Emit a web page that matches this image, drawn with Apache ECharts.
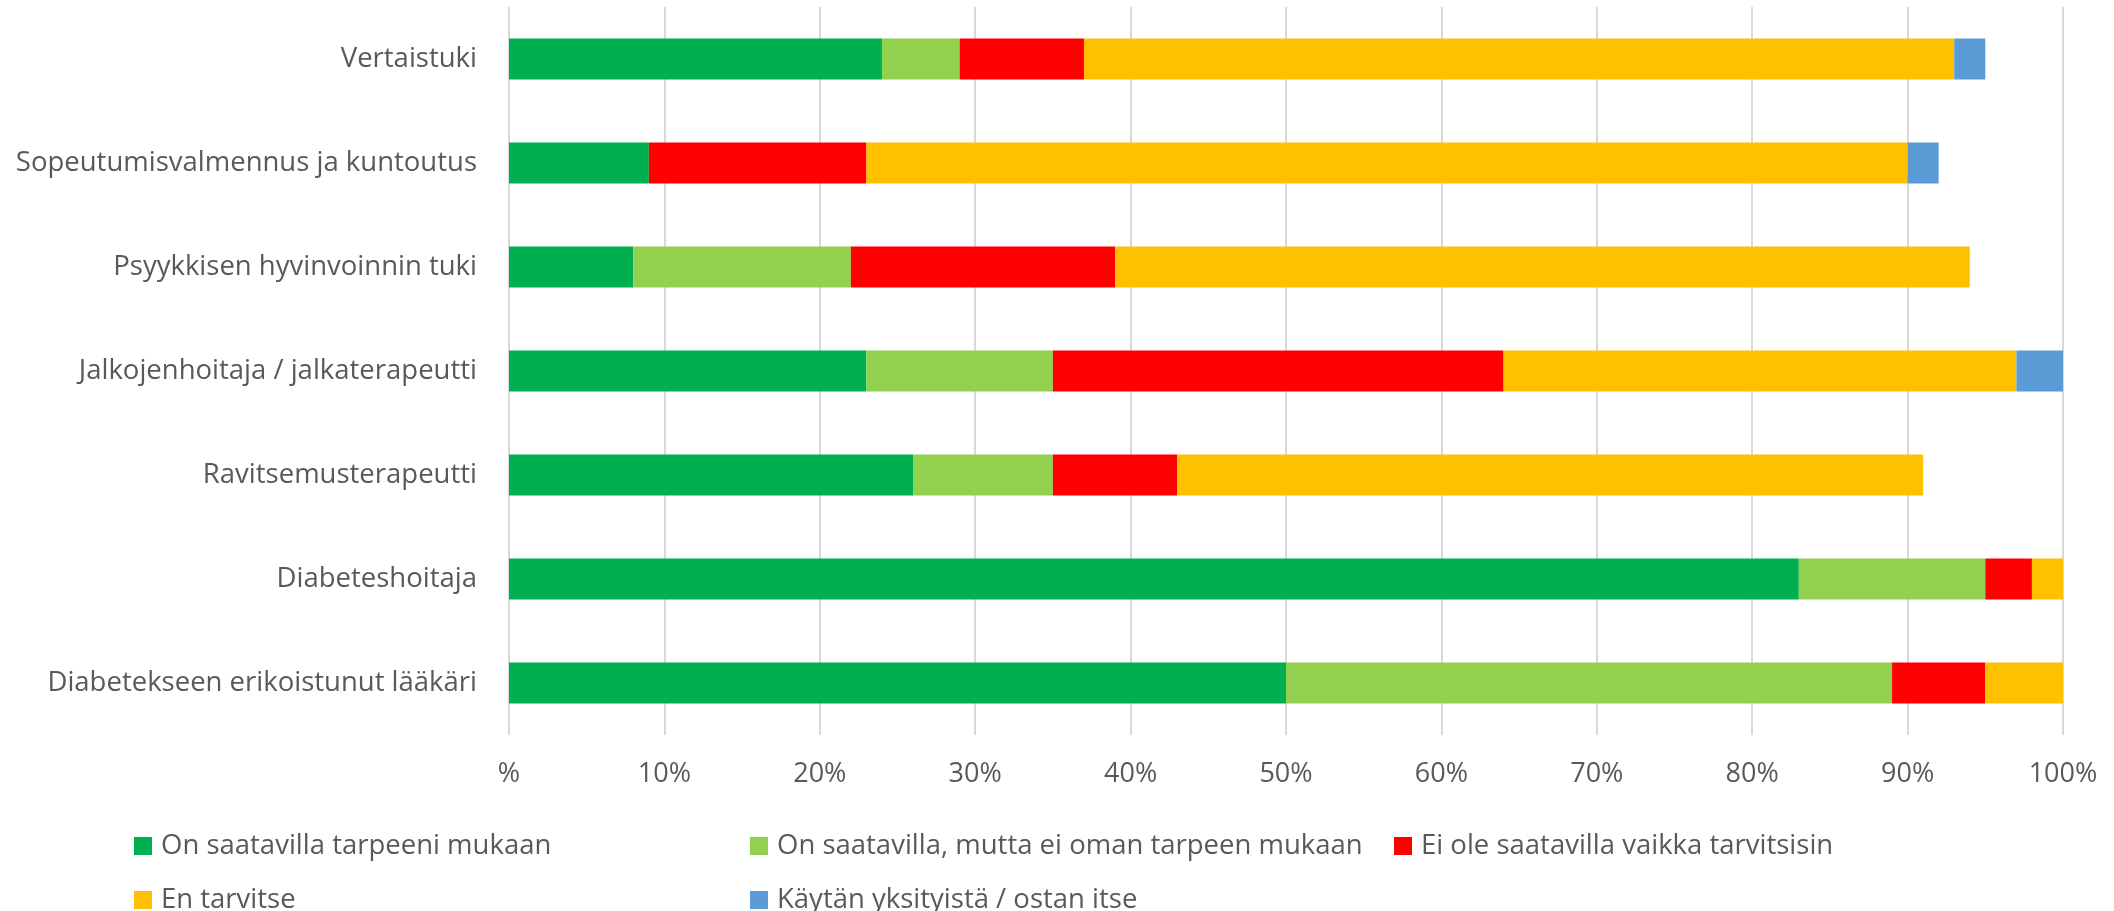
<!DOCTYPE html>
<html>
<head>
<meta charset="utf-8">
<script src="https://cdn.jsdelivr.net/npm/echarts@6/dist/echarts.min.js"></script>
<style>
  html, body { margin: 0; padding: 0; background: #fff; }
  #chart { width: 2114px; height: 911px; }
</style>
</head>
<body>
<div id="chart"></div>
<script>
// kategoriat alhaalta ylös
const categories = [
  'Diabetekseen erikoistunut lääkäri',
  'Diabeteshoitaja',
  'Ravitsemusterapeutti',
  'Jalkojenhoitaja / jalkaterapeutti',
  'Psyykkisen hyvinvoinnin tuki',
  'Sopeutumisvalmennus ja kuntoutus',
  'Vertaistuki'
]

const seriesNames = [
  'On saatavilla tarpeeni mukaan',
  'On saatavilla, mutta ei oman tarpeen mukaan',
  'Ei ole saatavilla vaikka tarvitsisin',
  'En tarvitse',
  'Käytän yksityistä / ostan itse'
]

const saatavilla = [50, 83, 26, 23, 8, 9, 24]
const eiOmanTarpeen = [39, 12, 9, 12, 14, 0, 5]
const eiSaatavilla = [6, 3, 8, 29, 17, 14, 8]
const enTarvitse = [5, 2, 48, 33, 55, 67, 56]
const yksityinen = [0, 0, 0, 3, 0, 2, 2]

const xTicks = ['%', '10%', '20%', '30%', '40%', '50%', '60%', '70%', '80%', '90%', '100%']

const colors = ['#00B050', '#92D050', '#FF0000', '#FFC000', '#5B9BD5']
const values = [saatavilla, eiOmanTarpeen, eiSaatavilla, enTarvitse, yksityinen]

const font = '"Open Sans", "DejaVu Sans", sans-serif'
const textColor = '#595959'

const chart = echarts.init(document.getElementById('chart'))

// selite: yksi legend per kohta, jotta sijainnit osuvat kuten Excelissä
const legendPos = [
  [129, 826], [745, 826], [1389, 826],
  [129, 880], [745, 880]
]

const option = {
  animation: false,
  backgroundColor: '#fff',
  color: colors,
  grid: { left: 509, right: 51, top: 7, bottom: 176, containLabel: false },
  legend: seriesNames.map((name, i) => ({
    left: legendPos[i][0],
    top: legendPos[i][1],
    itemWidth: 18,
    itemHeight: 18,
    icon: 'rect',
    data: [name],
    textStyle: {
      fontFamily: font,
      fontSize: 27.5,
      lineHeight: 30,
      color: textColor,
      padding: [0, 0, 0, 4]
    }
  })),
  xAxis: {
    type: 'value',
    min: 0,
    max: 100,
    interval: 10,
    axisLine: { show: false },
    axisTick: { show: false },
    splitLine: { lineStyle: { color: '#D9D9D9', width: 2 } },
    axisLabel: {
      margin: 26,
      fontFamily: font,
      fontSize: 27,
      color: textColor,
      formatter: (v) => xTicks[Math.round(v / 10)]
    }
  },
  yAxis: {
    type: 'category',
    data: categories,
    axisLine: { show: false },
    axisTick: { show: false },
    axisLabel: { margin: 32, fontFamily: font, fontSize: 27.5, color: textColor }
  },
  series: seriesNames.map((name, i) => ({
    name: name,
    type: 'bar',
    stack: 'total',
    barWidth: 41,
    data: values[i],
    itemStyle: { color: colors[i] }
  }))
}

chart.setOption(option)
</script>
</body>
</html>
